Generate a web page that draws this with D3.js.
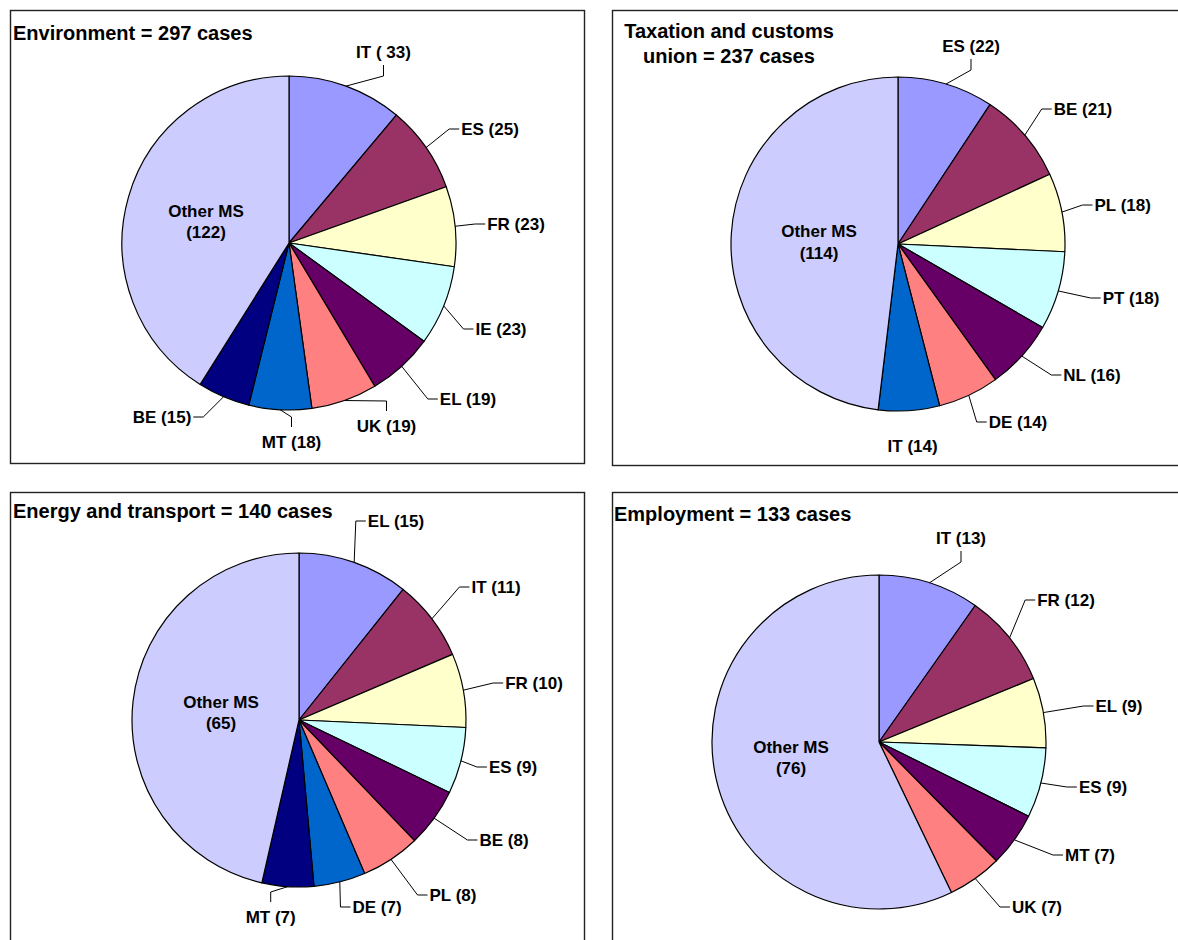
<!DOCTYPE html>
<html>
<head>
<meta charset="utf-8">
<script src="https://cdn.jsdelivr.net/npm/d3@7"></script>
<style>
  html, body { margin: 0; padding: 0; background: #fff; }
  svg { display: block; }
  text { font-family: "Liberation Sans", Arial, Helvetica, sans-serif; font-weight: bold; fill: #000; }
</style>
</head>
<body>
<svg id="chart" width="1178" height="940"></svg>
<script>
// ---- Infringement cases by Member State, four policy areas ----
const envStates = ["IT", "ES", "FR", "IE", "EL", "UK", "MT", "BE", "Other MS"];
const envCases  = [33, 25, 23, 23, 19, 19, 18, 15, 122];

const taxStates = ["ES", "BE", "PL", "PT", "NL", "DE", "IT", "Other MS"];
const taxCases  = [22, 21, 18, 18, 16, 14, 14, 114];

const trnStates = ["EL", "IT", "FR", "ES", "BE", "PL", "DE", "MT", "Other MS"];
const trnCases  = [15, 11, 10, 9, 8, 8, 7, 7, 65];

const empStates = ["IT", "FR", "EL", "ES", "MT", "UK", "Other MS"];
const empCases  = [13, 12, 9, 9, 7, 7, 76];

const envTitle = ["Environment = 297 cases"];
const taxTitle = ["Taxation and customs", "union = 237 cases"];
const trnTitle = ["Energy and transport = 140 cases"];
const empTitle = ["Employment = 133 cases"];

// slice fills in drawing order; the last entry is kept for "Other MS"
const sliceColors = ["#9999FF", "#993366", "#FFFFCC", "#CCFFFF", "#660066", "#FF8080", "#0066CC", "#000080"];
const otherColor = "#CCCCFF";

// label placement relative to the pie centre: [dx, dy, side the leader enters]
const envLabelPos = [[94.5, -191, "b"], [201, -114, "l"], [227, -19, "l"], [212, 86, "l"], [179, 156, "l"],
                     [97.5, 183, "t"], [2.5, 199, "t"], [-127, 174, "r"], [-83, -21.5, "in"]];
const taxLabelPos = [[73, -198, "b"], [185, -135, "l"], [224.7, -39, "l"], [233, 54, "l"], [194, 131, "l"],
                     [120, 178, "l"], [14.6, 202, "none"], [-79, -2, "in"]];
const trnLabelPos = [[97, -199, "l"], [197, -133, "l"], [235, -37, "l"], [214, 47, "l"], [205, 120, "l"],
                     [154, 175, "l"], [78, 187, "l"], [-28.3, 197, "t"], [-78, -7.5, "in"]];
const empLabelPos = [[82, -204, "b"], [187, -142, "l"], [240, -36, "l"], [224, 45, "l"], [211, 113, "l"],
                     [158, 165, "l"], [-88, 15.5, "in"]];

const panels = [
  { title: envTitle, titleX: 13, titleY: 40, titleAnchor: "start", frame: [10, 10, 584, 463], cx: 289, cy: 243,
    states: envStates, cases: envCases, pos: envLabelPos, spacer: { IT: " " } },
  { title: taxTitle, titleX: 729, titleY: 38, titleAnchor: "middle", frame: [612, 10, 1190, 465], cx: 898, cy: 244,
    states: taxStates, cases: taxCases, pos: taxLabelPos, spacer: {} },
  { title: trnTitle, titleX: 13, titleY: 518, titleAnchor: "start", frame: [10, 492, 584, 960], cx: 299, cy: 720,
    states: trnStates, cases: trnCases, pos: trnLabelPos, spacer: {} },
  { title: empTitle, titleX: 614, titleY: 521, titleAnchor: "start", frame: [612, 492, 1190, 960], cx: 879, cy: 742,
    states: empStates, cases: empCases, pos: empLabelPos, spacer: {} }
];

const R = 167;
const svg = d3.select("#chart");

const pie = d3.pie().sort(null).value(d => d.v).startAngle(0).endAngle(2 * Math.PI);
const arc = d3.arc().innerRadius(0).outerRadius(R);

panels.forEach(p => {
  const [x0, y0, x1, y1] = p.frame;
  svg.append("rect")
    .attr("x", x0 + 0.5).attr("y", y0 + 0.5)
    .attr("width", x1 - x0).attr("height", y1 - y0)
    .attr("fill", "#fff").attr("stroke", "#222").attr("stroke-width", 1.4);

  const t = svg.append("text")
    .attr("x", p.titleX).attr("y", p.titleY)
    .attr("text-anchor", p.titleAnchor)
    .style("font-size", "20px");
  p.title.forEach((line, i) => {
    t.append("tspan").attr("x", p.titleX).attr("dy", i === 0 ? 0 : 25).text(line);
  });

  const data = p.states.map((s, i) => ({ s, v: p.cases[i], i }));
  const last = data.length - 1;
  const g = svg.append("g").attr("transform", `translate(${p.cx},${p.cy})`);
  const arcs = pie(data);

  g.selectAll("path.slice")
    .data(arcs)
    .join("path")
    .attr("class", "slice")
    .attr("d", arc)
    .attr("fill", d => d.data.i === last ? otherColor : sliceColors[d.data.i % sliceColors.length])
    .attr("stroke", "#000")
    .attr("stroke-width", 1.2)
    .attr("stroke-linejoin", "round");

  arcs.forEach((a, k) => {
    const [dx, dy, side] = p.pos[k];
    const d = a.data;
    if (side === "in") {
      const lt = g.append("text")
        .attr("x", dx).attr("y", dy)
        .attr("text-anchor", "middle")
        .style("font-size", "17px");
      lt.append("tspan").attr("x", dx).attr("dy", "-0.27em").text(d.s);
      lt.append("tspan").attr("x", dx).attr("dy", "1.24em").text(`(${d.v})`);
      return;
    }
    const gap = p.spacer[d.s] || "";
    const label = g.append("text")
      .attr("x", dx).attr("y", dy)
      .attr("dy", "0.35em")
      .attr("text-anchor", "middle")
      .style("font-size", "17px")
      .text(`${d.s} (${gap}${d.v})`);
    if (side === "none") return;

    const w = label.node().getComputedTextLength();
    const mid = (a.startAngle + a.endAngle) / 2;
    const ex = R * Math.sin(mid), ey = -R * Math.cos(mid);
    let ax, ay, bx, by;
    if (side === "l") { ax = dx - w / 2 - 2; ay = dy; bx = ax - 10; by = dy; }
    else if (side === "r") { ax = dx + w / 2 + 2; ay = dy; bx = ax + 10; by = dy; }
    else if (side === "b") { ax = dx; ay = dy + 13; bx = dx; by = dy + 24; }
    else { ax = dx; ay = dy - 15; bx = dx; by = dy - 25; }
    g.insert("path", "text")
      .attr("d", d3.line()([[ex, ey], [bx, by], [ax, ay]]))
      .attr("fill", "none")
      .attr("stroke", "#000")
      .attr("stroke-width", 1);
  });
});
</script>
</body>
</html>
